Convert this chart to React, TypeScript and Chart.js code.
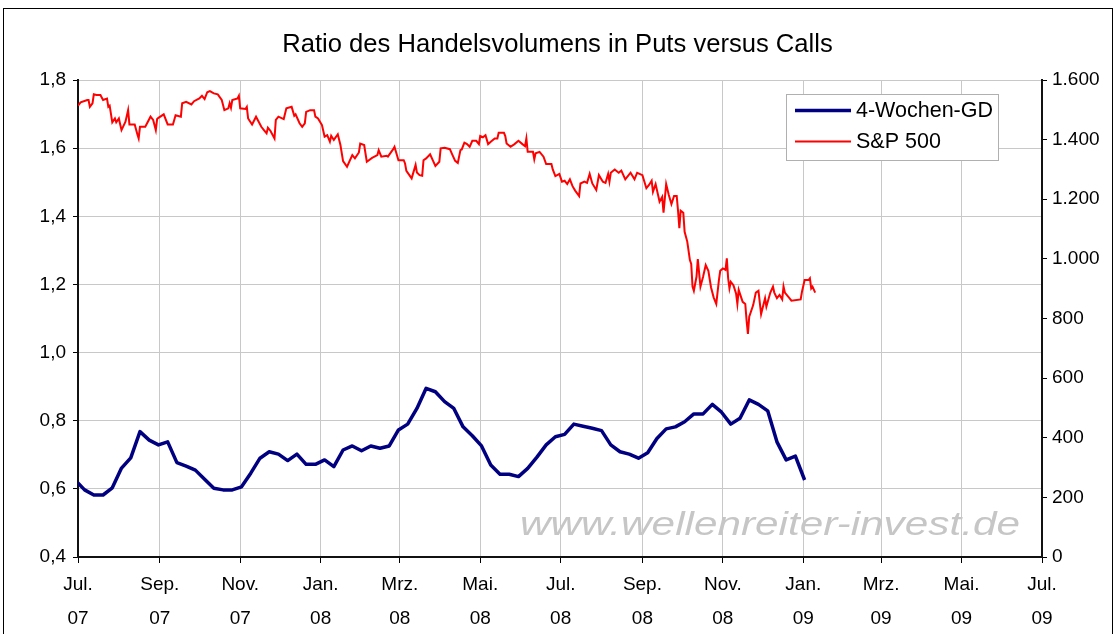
import React, { useEffect, useRef } from "react";
import { Chart, registerables } from "chart.js";

Chart.register(...registerables);

const TITLE = "Ratio des Handelsvolumens in Puts versus Calls";
const WATERMARK = "www.wellenreiter-invest.de";
const FONT = '"Liberation Sans", Arial, sans-serif';

const START_DATE = "2007-07-01";
const END_DATE = "2009-07-01";

const tickDates = [
  "2007-07-01", "2007-09-01", "2007-11-01", "2008-01-01", "2008-03-01", "2008-05-01",
  "2008-07-01", "2008-09-01", "2008-11-01", "2009-01-01", "2009-03-01", "2009-05-01", "2009-07-01",
];
const tickMonths = ["Jul.", "Sep.", "Nov.", "Jan.", "Mrz.", "Mai.", "Jul.", "Sep.", "Nov.", "Jan.", "Mrz.", "Mai.", "Jul."];
const tickYears = ["07", "07", "07", "08", "08", "08", "08", "08", "08", "09", "09", "09", "09"];

// 4-Wochen-GD (weekly, Fridays, first value 2007-06-29)
const ratioFirstDate = "2007-06-29";
const ratioValues = [
  0.625, 0.597, 0.582, 0.582, 0.603, 0.661, 0.691, 0.768, 0.743, 0.729,
  0.738, 0.677, 0.667, 0.655, 0.628, 0.602, 0.597, 0.597, 0.606, 0.646,
  0.690, 0.709, 0.702, 0.683, 0.702, 0.672, 0.672, 0.685, 0.665, 0.714,
  0.726, 0.712, 0.726, 0.719, 0.726, 0.773, 0.790, 0.836, 0.895, 0.885,
  0.856, 0.836, 0.782, 0.756, 0.726, 0.670, 0.643, 0.643, 0.636, 0.660,
  0.693, 0.729, 0.753, 0.760, 0.790, 0.784, 0.778, 0.771, 0.729, 0.709,
  0.702, 0.690, 0.706, 0.748, 0.776, 0.782, 0.797, 0.820, 0.820, 0.848,
  0.825, 0.790, 0.807, 0.861, 0.848, 0.829, 0.738, 0.685, 0.696, 0.626,
];

// S&P 500: day offsets from START_DATE and closing values
const spDays = [
  0, 2, 7, 8, 9, 11, 12, 14, 17, 19, 22, 23, 24, 26, 28, 29, 31, 32, 33, 36,
  38, 39, 43, 45, 46, 47, 51, 55, 57, 59, 60, 61, 65, 68, 72, 74, 78, 79, 82, 86,
  88, 92, 94, 96, 98, 100, 103, 106, 109, 111, 114, 115, 116, 117, 121, 122, 123, 127, 128, 129,
  132, 135, 139, 141, 143, 144, 146, 149, 150, 152, 156, 158, 162, 164, 165, 168, 170, 172, 173, 176,
  179, 180, 182, 185, 187, 189, 191, 192, 194, 197, 199, 201, 204, 208, 210, 213, 214, 217, 219, 223,
  227, 228, 230, 234, 235, 239, 240, 243, 247, 248, 249, 253, 256, 257, 259, 261, 262, 264, 267, 269,
  271, 274, 275, 278, 282, 284, 286, 288, 290, 291, 293, 295, 297, 299, 302, 304, 305, 307, 309, 311,
  313, 316, 318, 319, 323, 324, 325, 328, 331, 334, 337, 339, 340, 341, 345, 346, 347, 350, 353, 355,
  359, 360, 362, 365, 367, 369, 371, 373, 375, 377, 380, 381, 384, 386, 388, 390, 393, 395, 398, 400,
  402, 403, 404, 407, 410, 412, 415, 419, 422, 424, 428, 431, 433, 435, 436, 438, 441, 443, 444, 446,
  448, 450, 452, 454, 455, 456, 457, 459, 460, 462, 464, 465, 466, 467, 469, 470, 472, 474, 476, 478,
  480, 482, 484, 486, 487, 489, 491, 492, 493, 494, 495, 497, 499, 500, 501, 504, 506, 507, 508, 509,
  512, 514, 516, 518, 521, 522, 525, 527, 528, 530, 532, 534, 535, 536, 539, 541, 548, 549, 551, 554,
  555, 556, 557, 559,
];
const spValues = [
  1514, 1525, 1533, 1533, 1510, 1522, 1552, 1550, 1550, 1533, 1538, 1510, 1514, 1458, 1471, 1458, 1471, 1451, 1432, 1460,
  1499, 1451, 1451, 1418, 1404, 1443, 1443, 1477, 1466, 1432, 1469, 1473, 1485, 1451, 1451, 1482, 1477, 1522, 1527, 1518,
  1529, 1538, 1547, 1536, 1559, 1563, 1555, 1552, 1533, 1499, 1505, 1522, 1507, 1533, 1538, 1547, 1505, 1503, 1510, 1471,
  1451, 1477, 1443, 1432, 1421, 1440, 1429, 1404, 1466, 1477, 1469, 1505, 1510, 1480, 1485, 1455, 1443, 1455, 1493, 1499,
  1499, 1477, 1471, 1449, 1410, 1415, 1393, 1413, 1399, 1418, 1382, 1328, 1309, 1348, 1337, 1357, 1387, 1382, 1326, 1339,
  1348, 1365, 1343, 1346, 1343, 1368, 1376, 1331, 1331, 1320, 1295, 1270, 1315, 1290, 1281, 1279, 1331, 1337, 1351, 1331,
  1312, 1326, 1371, 1373, 1368, 1348, 1329, 1322, 1365, 1367, 1390, 1385, 1376, 1396, 1396, 1385, 1412, 1408, 1415, 1385,
  1393, 1404, 1404, 1423, 1423, 1412, 1387, 1376, 1385, 1396, 1385, 1378, 1404, 1359, 1359, 1334, 1354, 1359, 1343, 1318,
  1318, 1300, 1278, 1285, 1259, 1262, 1251, 1267, 1244, 1229, 1211, 1253, 1259, 1255, 1285, 1253, 1231, 1281, 1259, 1255,
  1285, 1259, 1289, 1300, 1289, 1296, 1267, 1289, 1267, 1289, 1281, 1237, 1248, 1262, 1225, 1251, 1192, 1208, 1155, 1251,
  1214, 1184, 1211, 1211, 1162, 1103, 1162, 1155, 1091, 1058, 996, 983, 907, 893, 940, 999, 907, 940, 979, 960,
  905, 871, 849, 929, 960, 968, 963, 1002, 935, 901, 923, 912, 884, 849, 896, 856, 849, 793, 748, 806,
  845, 887, 893, 815, 868, 840, 887, 907, 887, 868, 879, 864, 907, 887, 871, 860, 864, 890, 929, 929,
  935, 901, 907, 887,
];

const SERIES_LABELS = ["4-Wochen-GD", "S&P 500"];
const SERIES_COLORS = ["#000080", "#ff0000"];

const dayOf = (d: string) => Math.round((Date.parse(d) - Date.parse(START_DATE)) / 86400000);

const fmtLeft = (v: number) => v.toFixed(1).replace(".", ",");
const fmtRight = (v: number) => Math.round(v).toString().replace(/\B(?=(\d{3})+(?!\d))/g, ".");

const watermarkPlugin = {
  id: "watermark",
  beforeDatasetsDraw(chart: any) {
    const ctx = chart.ctx as CanvasRenderingContext2D;
    ctx.save();
    ctx.font = `italic 34px ${FONT}`;
    const w = ctx.measureText(WATERMARK).width;
    ctx.translate(520, 535);
    ctx.scale(500 / w, 1);
    ctx.fillStyle = "#c6c6c6";
    ctx.textBaseline = "alphabetic";
    ctx.fillText(WATERMARK, 0, 0);
    ctx.restore();
  },
};

const boxLegendPlugin = {
  id: "boxLegend",
  afterDraw(chart: any) {
    const ctx = chart.ctx as CanvasRenderingContext2D;
    const left = 786.5, top = 94.5, w = 212, h = 66;
    ctx.save();
    ctx.fillStyle = "#ffffff";
    ctx.fillRect(left, top, w, h);
    ctx.strokeStyle = "#b0b0b0";
    ctx.lineWidth = 1;
    ctx.strokeRect(left, top, w, h);
    const rows = [110.5, 141.5];
    chart.data.datasets.forEach((ds: any, i: number) => {
      const y = rows[i];
      ctx.beginPath();
      ctx.strokeStyle = ds.borderColor;
      ctx.lineWidth = ds.borderWidth;
      ctx.moveTo(795, y);
      ctx.lineTo(851, y);
      ctx.stroke();
      ctx.fillStyle = "#000";
      ctx.font = `21.5px ${FONT}`;
      ctx.textBaseline = "middle";
      ctx.textAlign = "left";
      ctx.fillText(ds.label, 856, y + 1);
    });
    ctx.restore();
  },
};

export default function App() {
  const ref = useRef<HTMLCanvasElement | null>(null);

  useEffect(() => {
    if (!ref.current) return;
    const startRatio = dayOf(ratioFirstDate);
    const ratioData = ratioValues.map((v, i) => ({ x: startRatio + 7 * i, y: v }));
    const spData = spValues.map((v, i) => ({ x: spDays[i], y: v }));
    const tickFont = { family: FONT, size: 19 };

    const chart = new Chart(ref.current, {
      type: "line",
      data: {
        datasets: [
          {
            label: SERIES_LABELS[0],
            data: ratioData,
            yAxisID: "yL",
            borderColor: SERIES_COLORS[0],
            borderWidth: 3.5,
            pointRadius: 0,
            tension: 0,
            borderJoinStyle: "round",
            clip: 0,
          },
          {
            label: SERIES_LABELS[1],
            data: spData,
            yAxisID: "yR",
            borderColor: SERIES_COLORS[1],
            borderWidth: 2,
            pointRadius: 0,
            tension: 0,
          },
        ],
      } as any,
      options: {
        animation: false,
        responsive: false,
        devicePixelRatio: 1,
        layout: { padding: 0 },
        plugins: {
          legend: { display: false },
          tooltip: { enabled: false },
          title: {
            display: true,
            text: TITLE,
            color: "#000",
            font: { family: FONT, size: 25.6, weight: "normal", lineHeight: 1.2 },
            padding: { top: 29.6, bottom: 19.7 },
          },
        },
        scales: {
          x: {
            type: "linear",
            min: 0,
            max: dayOf(END_DATE),
            afterBuildTicks: (s: any) => {
              s.ticks = tickDates.map((d) => ({ value: dayOf(d) }));
            },
            afterFit: (s: any) => {
              s.height = 77;
            },
            ticks: {
              autoSkip: false,
              maxRotation: 0,
              minRotation: 0,
              color: "#000",
              font: { ...tickFont, lineHeight: 34 / 19 },
              padding: 5,
              callback: (_v: any, i: number) => [tickMonths[i], tickYears[i]],
            },
            grid: { color: "#c8c8c8", lineWidth: 1, tickColor: "#000", tickLength: 6, drawTicks: true },
            border: { color: "#111", width: 2 },
          },
          yL: {
            type: "linear",
            position: "left",
            min: 0.4,
            max: 1.8,
            afterFit: (s: any) => {
              s.width = 78;
            },
            ticks: {
              stepSize: 0.2,
              color: "#000",
              font: tickFont,
              padding: 7,
              callback: (v: any) => fmtLeft(Number(v)),
            },
            grid: { color: "#c8c8c8", lineWidth: 1, tickColor: "#000", tickLength: 5 },
            border: { color: "#111", width: 2 },
          },
          yR: {
            type: "linear",
            position: "right",
            min: 0,
            max: 1600,
            afterFit: (s: any) => {
              s.width = 73;
            },
            ticks: {
              stepSize: 200,
              color: "#000",
              font: tickFont,
              padding: 5,
              callback: (v: any) => fmtRight(Number(v)),
            },
            grid: { drawOnChartArea: false, tickColor: "#000", tickLength: 5 },
            border: { color: "#111", width: 2 },
          },
        },
      } as any,
      plugins: [watermarkPlugin, boxLegendPlugin],
    });
    return () => chart.destroy();
  }, []);

  return (
    <div style={{ position: "fixed", left: 0, top: 0, width: 1115, height: 634, background: "#fff", overflow: "hidden" }}>
      <canvas ref={ref} width={1115} height={634} style={{ display: "block", width: 1115, height: 634 }} />
      <div
        style={{
          position: "absolute",
          left: 3,
          top: 8,
          width: 1108,
          height: 660,
          border: "1px solid #000",
          pointerEvents: "none",
        }}
      />
    </div>
  );
}
